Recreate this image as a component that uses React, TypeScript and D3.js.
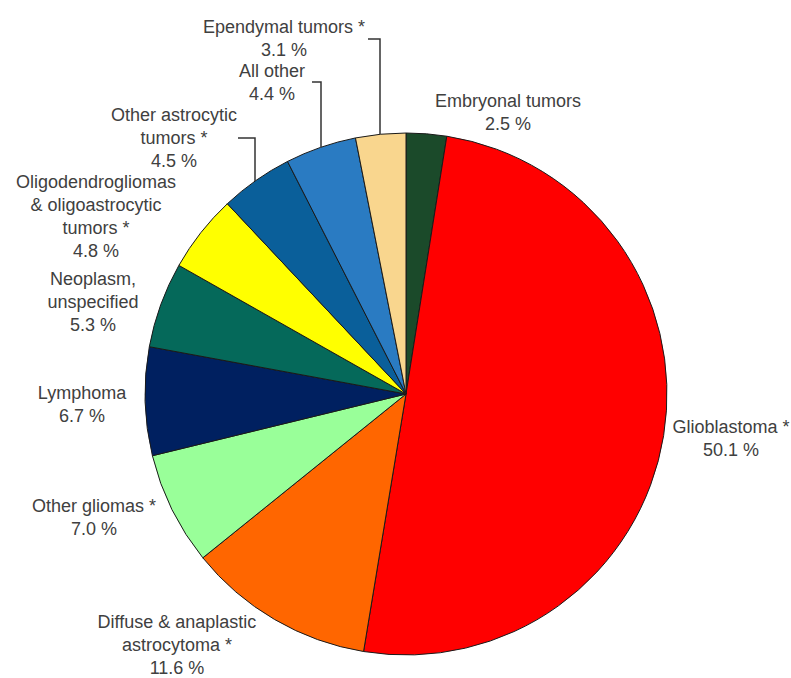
import React from "react";
import * as d3 from "d3";

const categories = [
  "Embryonal tumors",
  "Glioblastoma",
  "Diffuse & anaplastic astrocytoma",
  "Other gliomas",
  "Lymphoma",
  "Neoplasm, unspecified",
  "Oligodendrogliomas & oligoastrocytic tumors",
  "Other astrocytic tumors",
  "All other",
  "Ependymal tumors",
];
const values = [2.5, 50.1, 11.6, 7.0, 6.7, 5.3, 4.8, 4.5, 4.4, 3.1];
const labelLines = [
  ["Embryonal tumors"],
  ["Glioblastoma *"],
  ["Diffuse & anaplastic", "astrocytoma *"],
  ["Other gliomas *"],
  ["Lymphoma"],
  ["Neoplasm,", "unspecified"],
  ["Oligodendrogliomas", "& oligoastrocytic", "tumors *"],
  ["Other astrocytic", "tumors *"],
  ["All other"],
  ["Ependymal tumors *"],
];
const colors = [
  "#1b4a2a",
  "#ff0000",
  "#ff6600",
  "#99ff99",
  "#002060",
  "#05695a",
  "#ffff00",
  "#0a5f9a",
  "#2a7bc2",
  "#f9d68e",
];

// layout: label anchor (center x, first baseline y)
const labelPos: [number, number][] = [
  [508, 107],
  [731, 433],
  [177, 628],
  [94, 512],
  [82, 399],
  [93, 285],
  [96, 188],
  [174, 121],
  [272, 77],
  [284, 33],
];
// leader lines: [labelIndex, xStart, y, xVertical]
const leaders: [number, number, number, number][] = [
  [9, 368, 39, 380],
  [8, 312, 82, 321],
  [7, 238, 138, 255],
];

const W = 791;
const H = 678;
const CX = 406;
const CY = 394;
const R = 261;
const LINE = 23;

export default function App() {
  const pie = d3
    .pie<number>()
    .sort(null)
    .value((d) => d)
    .startAngle(0)
    .endAngle(2 * Math.PI);
  const arcs = pie(values);
  const arc = d3.arc<d3.PieArcDatum<number>>().innerRadius(0).outerRadius(R);

  return (
    <svg
      width={W}
      height={H}
      style={{ position: "absolute", left: 0, top: 0, background: "#fff" }}
      fontFamily="'Liberation Sans', Arial, sans-serif"
    >
      <g transform={`translate(${CX},${CY})`}>
        {arcs.map((a, i) => (
          <path
            key={categories[i]}
            d={arc(a) || ""}
            fill={colors[i]}
            stroke="#1a1a1a"
            strokeWidth={1}
            strokeLinejoin="round"
          />
        ))}
      </g>
      {leaders.map(([idx, x0, y, xv]) => {
        const dx = xv - CX;
        const yEnd = CY - Math.sqrt(R * R - dx * dx);
        return (
          <polyline
            key={"l" + idx}
            points={`${x0},${y} ${xv},${y} ${xv},${yEnd}`}
            fill="none"
            stroke="#333"
            strokeWidth={1.5}
          />
        );
      })}
      {values.map((v, i) => {
        const [x, y] = labelPos[i];
        const lines = [...labelLines[i], `${v.toFixed(1)} %`];
        return (
          <text
            key={"t" + i}
            x={x}
            y={y}
            textAnchor="middle"
            fontSize={18}
            fill="#404040"
          >
            {lines.map((ln, j) => (
              <tspan key={j} x={x} y={y + j * LINE}>
                {ln}
              </tspan>
            ))}
          </text>
        );
      })}
    </svg>
  );
}
